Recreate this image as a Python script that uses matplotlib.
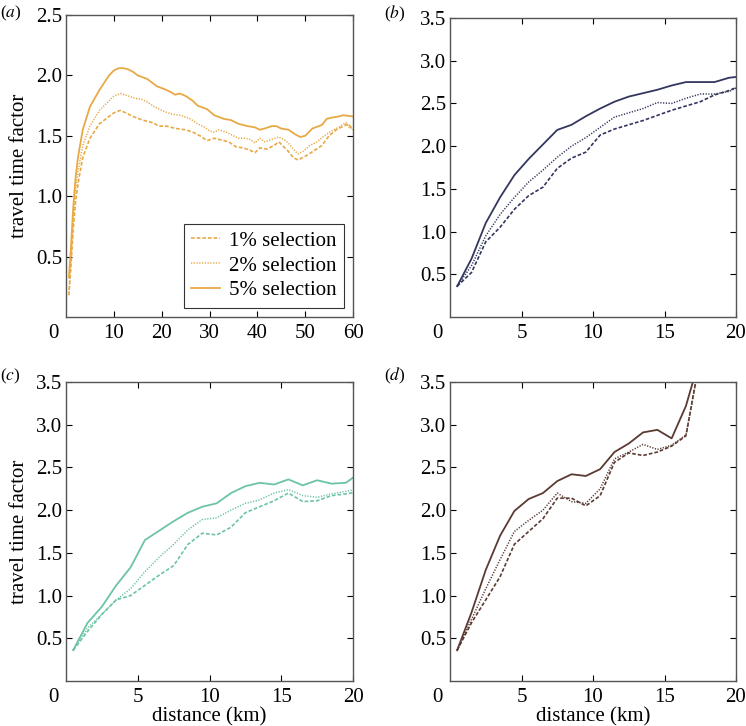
import matplotlib
matplotlib.use("Agg")
import matplotlib.pyplot as plt
from matplotlib.transforms import offset_copy

plt.rcParams['font.family'] = ['Liberation Serif', 'DejaVu Serif']
plt.rcParams['mathtext.fontset'] = 'stix'

# ---------------- data ----------------
labels = ["1% selection", "2% selection", "5% selection"]

# panel (a)
xa_1 = [0.6, 1.0, 1.5, 2.0, 2.5, 3.5, 5, 7, 9, 10, 11.3, 12.5, 14, 16, 18, 19.5, 21, 23, 25, 26.5, 28,
        29.5, 31, 33, 34, 35.5, 37, 38.5, 39.5, 40.5, 42, 43.5, 44.5, 45.5, 46.5, 47.5, 48.5, 50, 52,
        53.5, 55, 56.5, 58, 59, 60]
ya_1 = [0.18, 0.40, 0.72, 0.95, 1.10, 1.32, 1.48, 1.60, 1.66, 1.69, 1.71, 1.69, 1.66, 1.63, 1.61, 1.58,
        1.58, 1.56, 1.55, 1.53, 1.50, 1.46, 1.48, 1.46, 1.45, 1.41, 1.40, 1.38, 1.36, 1.40, 1.39, 1.42,
        1.45, 1.41, 1.37, 1.32, 1.30, 1.33, 1.38, 1.42, 1.50, 1.55, 1.58, 1.60, 1.55]
xa_2 = [0.6, 1.0, 1.5, 2.0, 2.5, 3.5, 5, 7, 9, 10, 11.5, 13, 14.5, 16, 17, 18.5, 20, 22, 24, 26, 27.5,
        29, 30, 31, 32, 33.5, 35, 36, 37.5, 38.5, 39.5, 40.5, 41.5, 43, 44.5, 45.5, 46.5, 47.5, 48.5,
        49.5, 51, 52.5, 54, 55.5, 57, 58.5, 59.3, 60]
ya_2 = [0.20, 0.45, 0.80, 1.05, 1.20, 1.42, 1.58, 1.71, 1.79, 1.83, 1.85, 1.83, 1.81, 1.80, 1.78, 1.74,
        1.71, 1.68, 1.67, 1.64, 1.60, 1.57, 1.54, 1.53, 1.55, 1.53, 1.50, 1.48, 1.48, 1.47, 1.44, 1.48,
        1.45, 1.47, 1.49, 1.47, 1.44, 1.39, 1.35, 1.37, 1.42, 1.45, 1.50, 1.54, 1.57, 1.61, 1.56, 1.57]
xa_5 = [0.6, 1.0, 1.5, 2.0, 2.5, 3.5, 5, 7, 9, 10, 11, 12, 13, 14, 15, 17, 18, 19, 21, 22, 22.8, 23.8,
        25, 26.5, 27.5, 29.5, 31, 33, 34.5, 36, 38, 39.5, 40.5, 41.5, 43, 44, 45, 46.5, 48, 49, 50,
        51.5, 53.5, 54.5, 55.5, 57, 58, 60]
ya_5 = [0.33, 0.55, 0.90, 1.15, 1.32, 1.55, 1.74, 1.88, 2.00, 2.04, 2.06, 2.06, 2.05, 2.03, 2.00, 1.97,
        1.94, 1.91, 1.88, 1.86, 1.84, 1.85, 1.83, 1.79, 1.75, 1.72, 1.67, 1.64, 1.63, 1.60, 1.58, 1.57,
        1.55, 1.56, 1.58, 1.58, 1.56, 1.55, 1.51, 1.49, 1.50, 1.56, 1.59, 1.64, 1.65, 1.66, 1.67, 1.66]

# panels (b)-(d) share distance bins
xd = [0.5, 1.5, 2.5, 3.5, 4.5, 5.5, 6.5, 7.5, 8.5, 9.5, 10.5, 11.5, 12.5, 13.5, 14.5, 15.5,
      16.5, 17.5, 18.5, 19.5, 20.5]

yb_1 = [0.36, 0.52, 0.88, 1.05, 1.26, 1.42, 1.52, 1.74, 1.86, 1.93, 2.13, 2.20, 2.25, 2.30, 2.36, 2.42,
        2.47, 2.52, 2.60, 2.65, 2.72]
yb_2 = [0.36, 0.60, 0.95, 1.20, 1.40, 1.58, 1.72, 1.87, 2.00, 2.10, 2.22, 2.34, 2.39, 2.44, 2.51, 2.50,
        2.56, 2.61, 2.61, 2.64, 2.72]
yb_5 = [0.36, 0.68, 1.10, 1.40, 1.66, 1.85, 2.02, 2.19, 2.25, 2.35, 2.44, 2.52, 2.58, 2.62, 2.66, 2.71,
        2.75, 2.75, 2.75, 2.80, 2.82]

yc_1 = [0.36, 0.58, 0.78, 0.95, 1.00, 1.12, 1.24, 1.35, 1.60, 1.73, 1.71, 1.80, 1.97, 2.04, 2.11, 2.20,
        2.10, 2.11, 2.17, 2.19, 2.22]
yc_2 = [0.36, 0.62, 0.78, 0.95, 1.08, 1.28, 1.45, 1.60, 1.77, 1.89, 1.91, 2.00, 2.08, 2.12, 2.20, 2.24,
        2.17, 2.15, 2.19, 2.22, 2.25]
yc_5 = [0.36, 0.68, 0.87, 1.12, 1.33, 1.65, 1.76, 1.87, 1.97, 2.04, 2.08, 2.20, 2.28, 2.32, 2.30, 2.36,
        2.29, 2.35, 2.31, 2.32, 2.44]

ydd_1 = [0.36, 0.68, 0.95, 1.22, 1.60, 1.75, 1.90, 2.14, 2.14, 2.05, 2.17, 2.56, 2.67, 2.64, 2.68, 2.75,
         2.87, 3.80, 4.50, 5.00, 5.50]
ydd_2 = [0.36, 0.72, 1.08, 1.42, 1.75, 1.88, 2.00, 2.20, 2.10, 2.08, 2.25, 2.60, 2.68, 2.77, 2.71, 2.76,
         2.88, 3.77, 4.50, 5.00, 5.50]
ydd_5 = [0.36, 0.80, 1.30, 1.70, 1.99, 2.13, 2.20, 2.34, 2.42, 2.40, 2.48, 2.68, 2.78, 2.91, 2.94, 2.84,
         3.22, 3.80, 4.50, 5.00, 5.50]

# ---------------- style ----------------
c_a = "#E8A945"
c_b = "#33375E"
c_c = "#6CC4A2"
c_d = "#5A3A32"
styles = [dict(linestyle=(0, (2.2, 1.2)), lw=1.2),
          dict(linestyle=(0, (0.8, 1.0)), lw=1.1),
          dict(linestyle='-', lw=1.3)]

fig = plt.figure(figsize=(7.46, 7.26), dpi=100)
W, H = 746, 726
def box(l, t, r, b):
    return [l / W, 1 - b / H, (r - l) / W, (b - t) / H]

ax_a = fig.add_axes(box(66, 15, 353, 317))
ax_b = fig.add_axes(box(450, 18, 736, 317))
ax_c = fig.add_axes(box(66, 382, 353, 681))
ax_d = fig.add_axes(box(450, 382, 736, 681))

FS = 15

def style_axes(ax, xmax, xticks, ymax, yticks, letter, dy):
    ax.set_xlim(0, xmax)
    ax.set_ylim(0, ymax)
    ax.set_xticks(xticks)
    ax.set_yticks(yticks)
    ax.set_yticklabels([f"{v:.1f}" for v in yticks])
    ax.tick_params(direction='in', length=4, width=0.8, top=True, right=True,
                   labelsize=FS, color='black')
    ax.tick_params(axis='x', pad=5)
    ax.tick_params(axis='y', pad=2.5)
    for s in ax.spines.values():
        s.set_color('#555555')
        s.set_linewidth(1.0)
    tr = offset_copy(ax.transAxes, fig=fig, x=-13, y=-16, units='dots')
    ax.text(0, 0, "0", transform=tr, ha='center', va='center', fontsize=FS)
    tr2 = offset_copy(ax.transAxes, fig=fig, x=0, y=dy, units='dots')
    ax.text(-0.23, 1.0, "(" + r"$\it{" + letter + "}$" + ")", transform=tr2,
            ha='left', va='center', fontsize=12.5)

style_axes(ax_a, 60, [10, 20, 30, 40, 50, 60], 2.5, [0.5, 1.0, 1.5, 2.0, 2.5], 'a', 2)
for ax, letter, dy in [(ax_b, 'b', 4), (ax_c, 'c', 6), (ax_d, 'd', 6)]:
    style_axes(ax, 20, [5, 10, 15, 20], 3.5, [0.5, 1.0, 1.5, 2.0, 2.5, 3.0, 3.5], letter, dy)

ax_a.plot(xa_1, ya_1, color=c_a, label=labels[0], **styles[0])
ax_a.plot(xa_2, ya_2, color=c_a, label=labels[1], **styles[1])
ax_a.plot(xa_5, ya_5, color=c_a, label=labels[2], **styles[2])

for ax, col, ys in [(ax_b, c_b, (yb_1, yb_2, yb_5)),
                    (ax_c, c_c, (yc_1, yc_2, yc_5)),
                    (ax_d, c_d, (ydd_1, ydd_2, ydd_5))]:
    for y, st, lab in zip(ys, styles, labels):
        ax.plot(xd, y, color=col, label=lab, **st)

leg = ax_a.legend(loc='lower right', fontsize=FS, frameon=True, fancybox=False,
                  edgecolor='black', borderaxespad=0.45, handlelength=1.4,
                  labelspacing=0.25, handletextpad=0.4, borderpad=0.35)
leg.get_frame().set_linewidth(0.8)

ax_a.set_ylabel("travel time factor", fontsize=FS, labelpad=5)
ax_c.set_ylabel("travel time factor", fontsize=FS, labelpad=5)
ax_c.set_xlabel("distance (km)", fontsize=FS, labelpad=0)
ax_d.set_xlabel("distance (km)", fontsize=FS, labelpad=0)

fig.savefig("out.png", dpi=100)
